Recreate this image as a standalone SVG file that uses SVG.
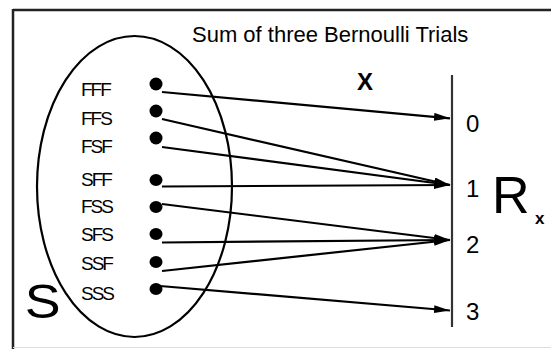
<svg xmlns="http://www.w3.org/2000/svg" width="551" height="350" viewBox="0 0 551 350">
<style>
  text { font-family: "Liberation Sans", Arial, sans-serif; fill: #000; }
  .lbl { font-size: 19px; letter-spacing: -2px; }
  .num { font-size: 24px; }
  .conn line { stroke: #000; stroke-width: 2.2; fill: none; }
  .dot { fill: #000; }
</style>
<defs>
  <marker id="ah" markerUnits="userSpaceOnUse" markerWidth="17" markerHeight="9" refX="16" refY="4" orient="auto">
    <path d="M0,0 L16,4 L0,8 Z" fill="#000"/>
  </marker>
</defs>
<rect x="0" y="0" width="551" height="350" fill="#fff"/>
<g id="frame">
  <line x1="13" y1="10" x2="551" y2="10" stroke="#222" stroke-width="2.5"/>
  <line x1="13" y1="9" x2="13" y2="349" stroke="#222" stroke-width="2.5"/>
  <line x1="13" y1="347.5" x2="551" y2="347.5" stroke="#ddd" stroke-width="1"/>
</g>
<text id="title" x="192" y="41.5" font-size="22">Sum of three Bernoulli Trials</text>
<g id="S">
  <ellipse cx="134.5" cy="186.5" rx="97.5" ry="150.5" fill="none" stroke="#000" stroke-width="2.2"/>
  <text x="22" y="318" font-size="48" transform="scale(1.12,1)">S</text>
</g>
<g id="outcomes">
  <g id="FFF"><text class="lbl" x="81" y="96">FFF</text><circle class="dot" cx="156" cy="84" r="6.5"/></g>
  <g id="FFS"><text class="lbl" x="81" y="125">FFS</text><circle class="dot" cx="156" cy="111" r="6.5"/></g>
  <g id="FSF"><text class="lbl" x="81" y="153">FSF</text><circle class="dot" cx="156" cy="138" r="6.5"/></g>
  <g id="SFF"><text class="lbl" x="81" y="186">SFF</text><ellipse class="dot" cx="156" cy="180" rx="6.5" ry="6"/></g>
  <g id="FSS"><text class="lbl" x="81" y="213">FSS</text><ellipse class="dot" cx="156" cy="207" rx="6.5" ry="6"/></g>
  <g id="SFS"><text class="lbl" x="81" y="241">SFS</text><ellipse class="dot" cx="156" cy="234" rx="6.5" ry="6"/></g>
  <g id="SSF"><text class="lbl" x="81" y="270">SSF</text><ellipse class="dot" cx="156" cy="262" rx="6.5" ry="6"/></g>
  <g id="SSS"><text class="lbl" x="81" y="300">SSS</text><ellipse class="dot" cx="156" cy="289" rx="6.5" ry="6"/></g>
</g>
<g id="Rx">
  <line x1="452" y1="75" x2="452" y2="327" stroke="#333" stroke-width="2.2"/>
  <text class="num" x="466" y="131.5">0</text>
  <text class="num" x="466" y="196.5">1</text>
  <text class="num" x="466" y="253">2</text>
  <text class="num" x="466" y="320">3</text>
  <text x="492" y="213" font-size="52">R</text>
  <text x="535" y="223.5" font-size="17" font-weight="bold">x</text>
</g>
<text id="Xlabel" x="357" y="90" font-size="24" font-weight="bold">X</text>
<g id="connectors" class="conn">
  <line x1="162" y1="92" x2="450" y2="118.3" marker-end="url(#ah)"/>
  <line x1="162" y1="119" x2="450" y2="185" marker-end="url(#ah)"/>
  <line x1="162" y1="147" x2="450" y2="185" marker-end="url(#ah)"/>
  <line x1="162" y1="186.5" x2="450" y2="185" marker-end="url(#ah)"/>
  <line x1="162" y1="204" x2="450" y2="240" marker-end="url(#ah)"/>
  <line x1="162" y1="242.5" x2="450" y2="240" marker-end="url(#ah)"/>
  <line x1="162" y1="271" x2="450" y2="240" marker-end="url(#ah)"/>
  <line x1="160" y1="286" x2="450" y2="310.5" marker-end="url(#ah)"/>
</g>
</svg>
